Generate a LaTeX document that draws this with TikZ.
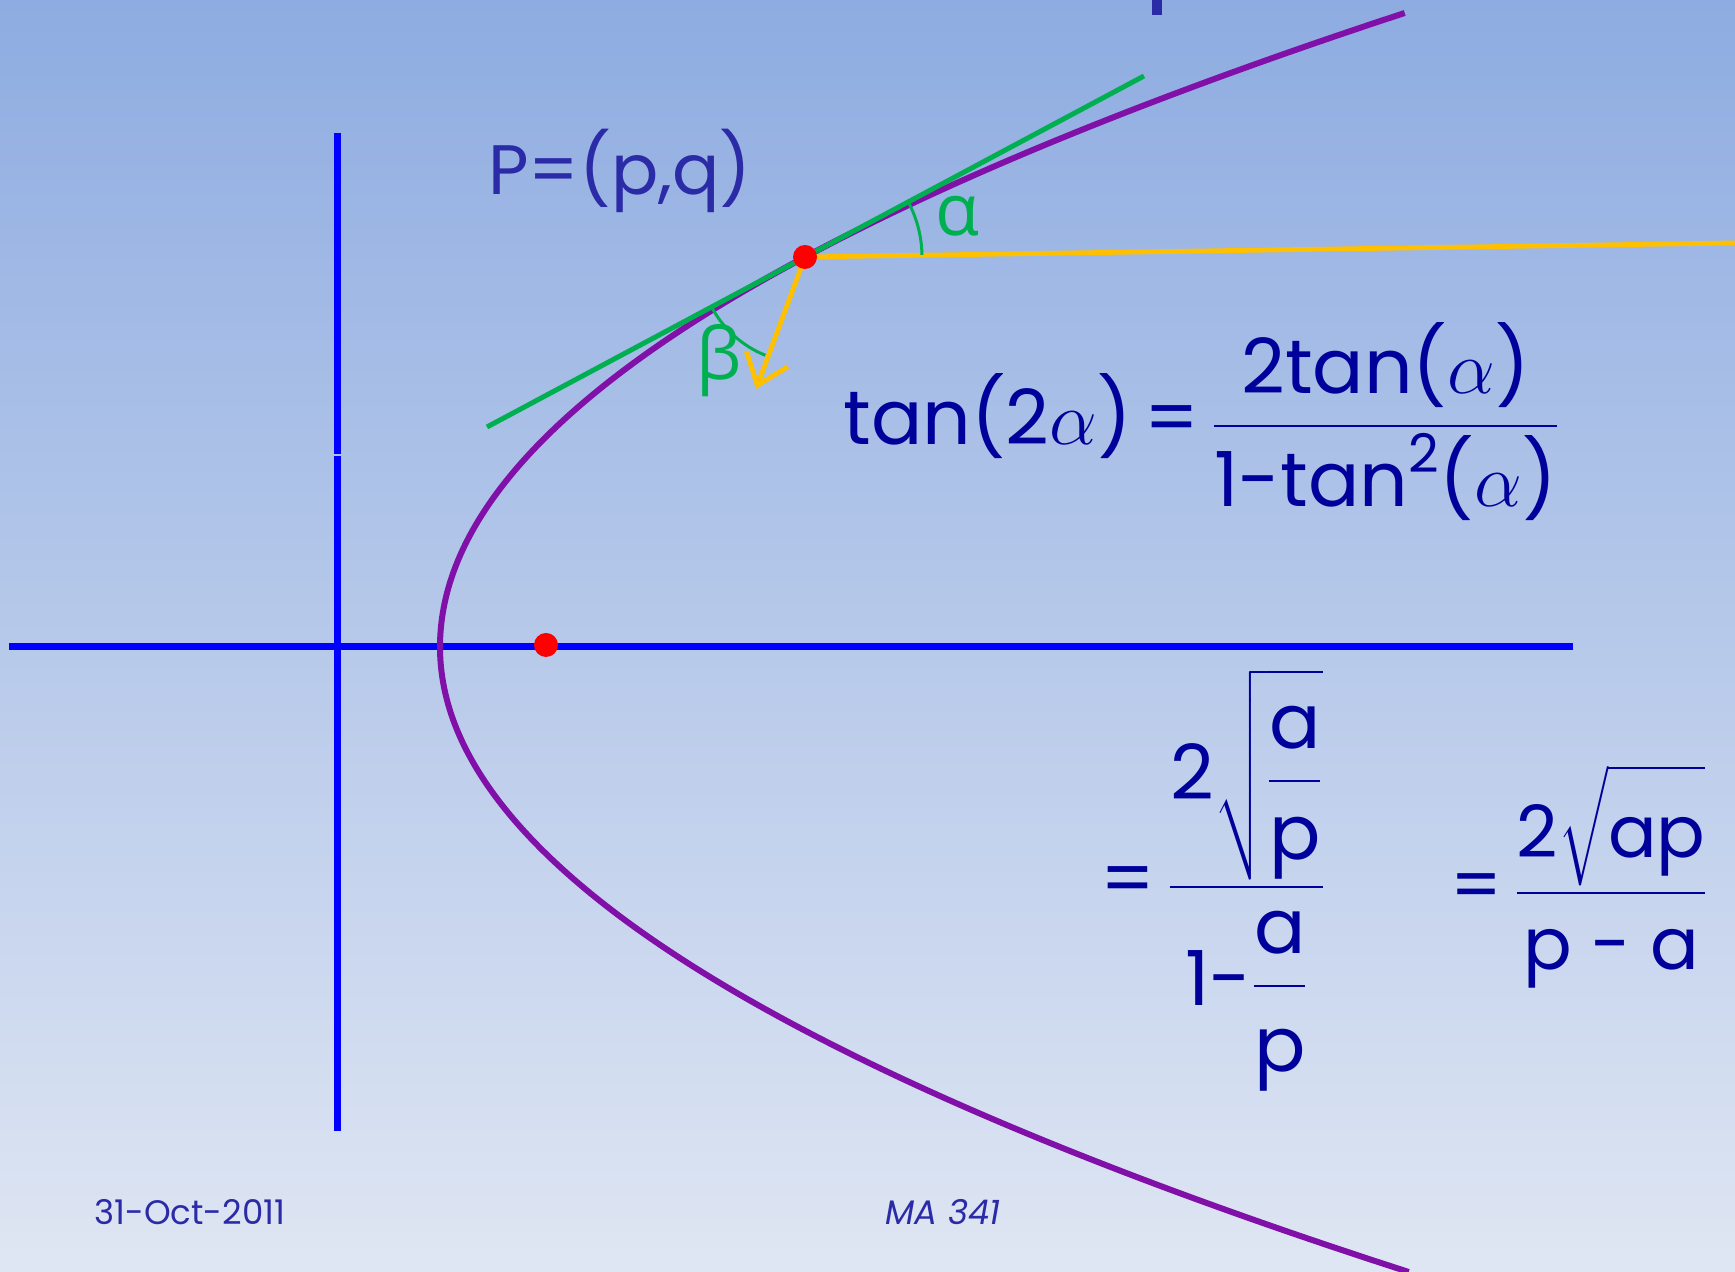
\RequirePackage{fix-cm}
\documentclass[tikz,border=0pt]{standalone}
\usepackage{amsmath}
\usepackage{fontspec}
\setmainfont{Poppins}
\newfontfamily\greekfont{Open Sans}
\usepackage{tikz}
\usetikzlibrary{arrows.meta,calc}

\definecolor{bgtop}{RGB}{142,172,225}
\definecolor{bgbottom}{RGB}{223,230,243}
\definecolor{axisblue}{RGB}{0,0,255}
\definecolor{curvepurple}{RGB}{128,16,168}
\definecolor{tangentgreen}{RGB}{0,176,80}
\definecolor{raygold}{RGB}{255,192,0}
\definecolor{labelblue}{RGB}{43,43,168}
\definecolor{formulablue}{RGB}{0,0,155}

\newcommand{\vstrut}[1]{\rule{0pt}{#1}}

\tikzset{
    axisline/.style={axisblue,line width=3.5pt},
    curveline/.style={curvepurple,line width=3pt},
    tangentline/.style={tangentgreen,line width=2.5pt},
    rayline/.style={raygold,line width=2.4pt},
    anglearc/.style={tangentgreen,line width=1.5pt},
    reddot/.style={circle,fill=red,inner sep=0pt,minimum size=12pt},
    greeklabel/.style={tangentgreen,font=\fontsize{36}{40}\greekfont},
    formula/.style={formulablue,inner sep=0pt,anchor=base west,font=\fontsize{38}{44}\selectfont},
    footer/.style={labelblue,font=\fontsize{17}{20}\selectfont}
}

\begin{document}
\begin{tikzpicture}[x=0.5pt,y=0.5pt]
    \shade[top color=bgtop,bottom color=bgbottom] (0,0) rectangle (1735,1272);
    \useasboundingbox (0,0) rectangle (1735,1272);
    % axes
    \draw[axisline] (9,625) -- (1573,625);
    \draw[axisline] (337.5,1139) -- (337.5,818);
    \draw[axisline] (337.5,816) -- (337.5,141);
    \draw[labelblue,line width=5pt] (1157,1272) -- (1157,1257);
    % parabola
    \draw[curveline] plot[domain=-625:634,samples=120,smooth]
        ({440+(24+0.8*(\x<0))*(\x/100)*(\x/100)},{625+\x});
    \coordinate (P) at (805,1015);
    \coordinate (T1) at (487,845);
    \coordinate (T2) at (1144,1196);
    \coordinate (R) at (1735,1029);
    \coordinate (Q) at (756,883);
    % tangent, ray and reflection
    \draw[tangentline] (T1) -- (T2);
    \draw[rayline] (P) -- (R);
    \draw[rayline,-{Straight Barb[length=14pt,width=22pt,line width=2.4pt]}] (P) -- (Q);
    \draw[anglearc] ($(P)+(1:117)$) arc[start angle=1,end angle=28,radius=117];
    \draw[anglearc] ($(P)+(208:106)$) arc[start angle=208,end angle=248,radius=106];
    \node[greeklabel] (alpha) at (957,1056) {α};
    \node[greeklabel] (beta) at (719,911) {β};
    \node[reddot] (Pdot) at (P) {};
    \node[reddot] (focus) at (546,627) {};
    \node[labelblue,font=\fontsize{35}{40}\selectfont] (Plabel) at (620,1101) {P=(p,q)};
    % formulas
    \node[formula] (double) at (843,827)
        {tan(2$\alpha$)\,=\,$\dfrac{\text{2tan(}\alpha\text{)}}{\text{1-tan}^{\text{2}}\text{(}\alpha\text{)}}$};
    \node[formula] (halfangle) at (1100,366)
        {=\,$\dfrac{\text{2}\sqrt{\dfrac{\text{a}\vstrut{36pt}}{\vstrut{36pt}\text{p}}}}%
          {\text{1-}\dfrac{\vstrut{30pt}\text{a}}{\vstrut{39pt}\text{p}}}$};
    \node[formula,font=\fontsize{36}{42}\selectfont] (final) at (1450,361)
        {=\,$\dfrac{\text{2}\sqrt{\vstrut{38pt}\text{ap}}}{\vstrut{35pt}\text{p - a}}$};
    % footer
    \node[footer] (date) at (190,60) {31-Oct-2011};
    \node[footer,font=\fontsize{17}{20}\selectfont\itshape] (course) at (943,60) {MA 341};
\end{tikzpicture}
\end{document}
